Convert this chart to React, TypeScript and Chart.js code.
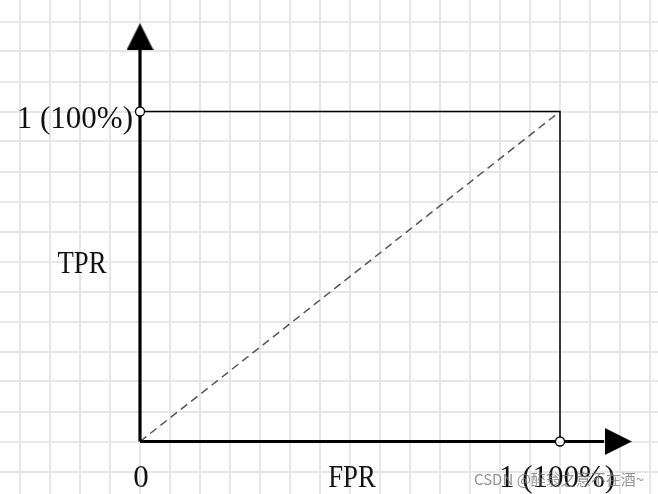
import React, { useEffect, useRef } from "react";
import { Chart, registerables } from "chart.js";

Chart.register(...registerables);

// ---- data (unit square ROC space) ----
const squareLine = [
  { x: 0, y: 1 },
  { x: 1, y: 1 },
  { x: 1, y: 0 },
];
const diagonalLine = [
  { x: 0, y: 0 },
  { x: 1, y: 1 },
];
const xAxisLine = [
  { x: 0, y: 0 },
  { x: 1.105, y: 0 },
];
const yAxisLine = [
  { x: 0, y: 0 },
  { x: 0, y: 1.19 },
];
const markerPoints = [
  { x: 0, y: 1 },
  { x: 1, y: 0 },
];
const xArrow = [{ x: 1.139, y: 0 }];
const yArrow = [{ x: 0, y: 1.227 }];

const yTickLabel = "1 (100%)";
const xTickLabels = ["0", "1 (100%)"];
const xTitle = "FPR";
const yTitle = "TPR";
const watermark = "CSDN @醉翁之意不在酒~";

// axis ranges (grid: 14 cells per x unit, 11 cells per y unit)
const X_MIN = -140 / 420;
const X_MAX = 518 / 420;
const Y_MIN = (441.5 - 494) / 330;
const Y_MAX = 441.5 / 330;
const X_GRID_STEP = 1 / 14;
const Y_GRID_STEP = 1 / 11;

function makeArrow(): HTMLCanvasElement {
  const c = document.createElement("canvas");
  c.width = 27;
  c.height = 27;
  const g = c.getContext("2d")!;
  g.fillStyle = "#000";
  g.beginPath();
  g.moveTo(13.5, 0);
  g.lineTo(27, 27);
  g.lineTo(0, 27);
  g.closePath();
  g.fill();
  return c;
}

const serif = "'Liberation Serif', 'DejaVu Serif', serif";

const labelPlugin = {
  id: "labels",
  afterDraw(chart: any) {
    const ctx = chart.ctx as CanvasRenderingContext2D;
    const xs = chart.scales.x;
    const ys = chart.scales.y;
    const x0 = xs.getPixelForValue(0);
    const x1 = xs.getPixelForValue(1);
    const y0 = ys.getPixelForValue(0);
    const y1 = ys.getPixelForValue(1);
    const yTitlePx = ys.getPixelForValue(0.5);
    const xTitlePx = xs.getPixelForValue(0.5);

    const draw = (t: string, cx: number, by: number, align: CanvasTextAlign, sx: number) => {
      ctx.save();
      ctx.translate(cx, by);
      ctx.scale(sx, 1);
      ctx.textAlign = align;
      ctx.textBaseline = "alphabetic";
      ctx.fillText(t, 0, 0);
      ctx.restore();
    };

    ctx.save();
    ctx.fillStyle = "#111";
    ctx.font = `31px ${serif}`;
    draw(yTickLabel, x0 - 7, y1 + 16, "right", 1);
    draw(yTitle, x0 - 58, yTitlePx - 4, "center", 0.86);
    draw(xTickLabels[0], x0 + 1, y0 + 45, "center", 1);
    draw(xTitle, xTitlePx + 2, y0 + 45, "center", 0.86);
    draw(xTickLabels[1], x1 - 3, y0 + 45, "center", 1);

    ctx.font = `15px 'Noto Sans CJK SC', 'Noto Sans', sans-serif`;
    ctx.fillStyle = "rgba(120,120,120,0.8)";
    ctx.textAlign = "left";
    ctx.textBaseline = "middle";
    ctx.fillText(watermark, 474, y0 + 38);
    ctx.restore();
  },
};

export default function App() {
  const ref = useRef<HTMLCanvasElement | null>(null);

  useEffect(() => {
    document.body.style.margin = "0";
    const canvas = ref.current!;
    const arrow = makeArrow();
    const gridTicks = (min: number, max: number, step: number) => {
      const out: { value: number }[] = [];
      const kStart = Math.ceil(min / step - 1e-9);
      const kEnd = Math.floor(max / step + 1e-9);
      for (let k = kStart; k <= kEnd; k++) out.push({ value: k * step });
      return out;
    };

    const chart = new Chart(canvas, {
      type: "scatter",
      data: {
        datasets: [
          {
            data: markerPoints,
            showLine: false,
            pointRadius: 4.5,
            pointBackgroundColor: "#fff",
            pointBorderColor: "#000",
            pointBorderWidth: 1.3,
            order: 0,
          },
          {
            data: xArrow,
            showLine: false,
            pointStyle: arrow as any,
            rotation: 90,
            pointRadius: 14,
            order: 1,
          },
          {
            data: yArrow,
            showLine: false,
            pointStyle: arrow as any,
            rotation: 0,
            pointRadius: 14,
            order: 1,
          },
          {
            data: xAxisLine,
            showLine: true,
            borderColor: "#000",
            borderWidth: 3.2,
            pointRadius: 0,
            borderCapStyle: "butt",
            order: 2,
          },
          {
            data: yAxisLine,
            showLine: true,
            borderColor: "#000",
            borderWidth: 3.2,
            pointRadius: 0,
            order: 2,
          },
          {
            data: squareLine,
            showLine: true,
            borderColor: "#000",
            borderWidth: 1.5,
            pointRadius: 0,
            order: 3,
          },
          {
            data: diagonalLine,
            showLine: true,
            borderColor: "#555",
            borderWidth: 1.5,
            borderDash: [8, 5],
            pointRadius: 0,
            order: 4,
          },
        ],
      },
      options: {
        animation: false,
        responsive: false,
        layout: { padding: 0, autoPadding: false },
        events: [],
        plugins: { legend: { display: false }, tooltip: { enabled: false } },
        scales: {
          x: {
            type: "linear",
            min: X_MIN,
            max: X_MAX,
            afterBuildTicks: (s: any) => {
              s.ticks = gridTicks(X_MIN, X_MAX, X_GRID_STEP);
            },
            ticks: { display: false },
            border: { display: false },
            grid: { color: "#e6e6e6", lineWidth: 2, drawTicks: false },
          },
          y: {
            type: "linear",
            min: Y_MIN,
            max: Y_MAX,
            afterBuildTicks: (s: any) => {
              s.ticks = gridTicks(Y_MIN, Y_MAX, Y_GRID_STEP);
            },
            ticks: { display: false },
            border: { display: false },
            grid: { color: "#e6e6e6", lineWidth: 2, drawTicks: false },
          },
        },
      },
      plugins: [labelPlugin],
    });
    return () => chart.destroy();
  }, []);

  return <canvas ref={ref} width={658} height={494} style={{ display: "block" }} />;
}
